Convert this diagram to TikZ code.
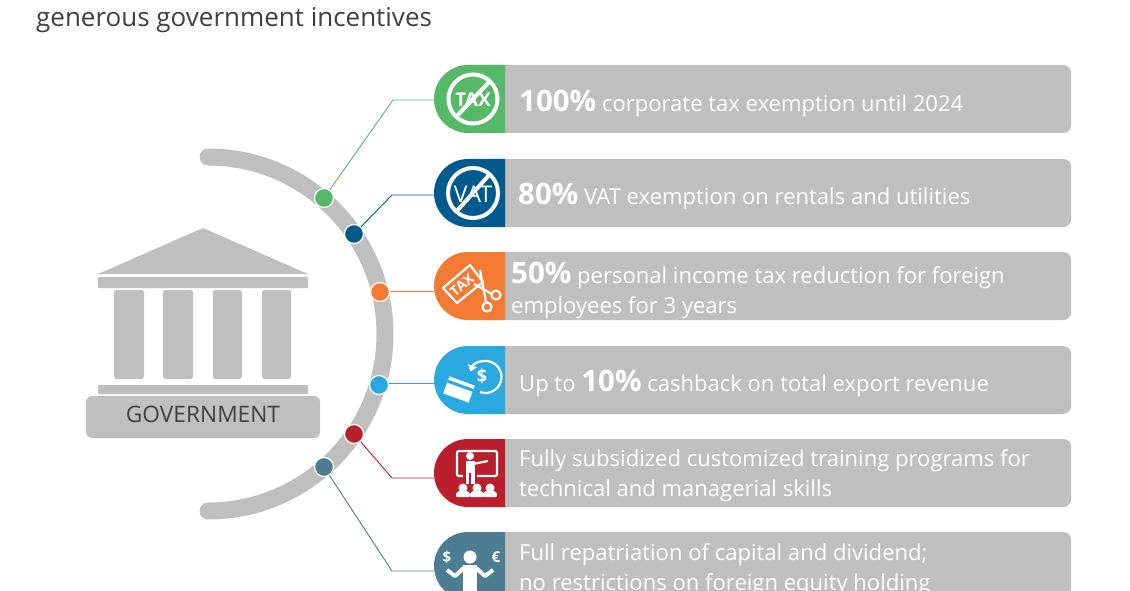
\documentclass[tikz,border=0pt]{standalone}
\usepackage{fontspec}
\setmainfont{Open Sans}
\usetikzlibrary{arrows.meta}
\definecolor{barg}{HTML}{BFBFBF}
\definecolor{inkd}{HTML}{404040}
\definecolor{taxg}{HTML}{55B968}
\definecolor{vatb}{HTML}{005A8E}
\definecolor{cuto}{HTML}{F47A33}
\definecolor{cashb}{HTML}{29A9E0}
\definecolor{trainr}{HTML}{BB1E2D}
\definecolor{repat}{HTML}{4C7D93}
\tikzset{
    barbox/.style = {fill=barg, rounded corners=8pt, minimum width=590pt, minimum height=68pt, anchor=west, inner sep=0pt},
    dotnode/.style = {circle, draw=white, line width=1.2pt, minimum size=19pt, inner sep=0pt},
    edgec/.style = {-, line width=0.9pt},
    rowtext/.style = {anchor=west, align=left, text=white, inner sep=0pt, font=\fontsize{22.05}{30}\selectfont},
    pillar/.style = {fill=barg, rounded corners=2.5pt},
    iconline/.style = {draw=white, line width=4pt},
    iconthin/.style = {draw=white, line width=2.2pt},
    iconfill/.style = {fill=white}
}
\newcommand{\bigpc}[1]{{\fontsize{29.5}{30}\selectfont\bfseries #1}}

\begin{document}
\begin{tikzpicture}[x=1pt, y=-1pt]
  \useasboundingbox (0,0) rectangle (1130,591);
  \clip (0,0) rectangle (1130,591);

  \node[anchor=base west, inner sep=0pt, text=inkd, font=\fontsize{26}{30}\selectfont] (title) at (36,27) {generous government incentives};

  % arc
  \draw[barg, line width=17pt, line cap=round] (208,157) arc[start angle=90, end angle=-90, radius=177pt];

  % building
  \fill[barg] (203,228) -- (308,274) -- (98,274) -- cycle;
  \fill[barg, rounded corners=1pt] (98,277) rectangle (308,288);
  \foreach \px/\pw in {114/30, 163/30, 213/29, 262/29}
    \fill[pillar] (\px,290) rectangle (\px+\pw,379);
  \fill[barg, rounded corners=1pt] (98,385) rectangle (308,394);
  \node[fill=barg, rounded corners=6pt, minimum width=234pt, minimum height=42pt, inner sep=0pt, text=inkd, font=\fontsize{22.7}{24}\selectfont] (govbox) at (203,417) {\raisebox{5pt}{GOVERNMENT}};

  % bars
  \foreach \nm/\ytop/\ycap/\col in {a/65/100/taxg, b/159/195/vatb, c/252/291/cuto, d/346/383/cashb, e/439/478/trainr, f/532/571/repat} {
    \node[barbox] (bar\nm) at (481,\ytop+34) {};
    \fill[\col] (505,\ytop) -- (468,\ytop) arc[start angle=90, end angle=270, radius=34pt] -- (505,\ytop+68) -- cycle;
    \coordinate (cap\nm) at (434,\ycap);
  }

  % dots
  \node[dotnode, fill=taxg] (dota) at (324,198) {};
  \node[dotnode, fill=vatb] (dotb) at (354,234) {};
  \node[dotnode, fill=cuto] (dotc) at (380,292) {};
  \node[dotnode, fill=cashb] (dotd) at (379,385) {};
  \node[dotnode, fill=trainr] (dote) at (354,434) {};
  \node[dotnode, fill=repat] (dotf) at (324,467) {};

  \coordinate (benda) at (393,100);
  \coordinate (bendb) at (392,195);
  \coordinate (bende) at (392,478);
  \coordinate (bendf) at (392,571);

  \draw[edgec, taxg] (dota) -- (benda) -- (capa);
  \draw[edgec, vatb] (dotb) -- (bendb) -- (capb);
  \draw[edgec, cuto] (dotc.east |- capc) -- (capc);
  \draw[edgec, cashb] (dotd.east |- capd) -- (capd);
  \draw[edgec, trainr] (dote) -- (bende) -- (cape);
  \draw[edgec, repat] (dotf) -- (bendf) -- (capf);

  % row texts
  \node[rowtext] (texta) at (519,103) {\bigpc{100\%} corporate tax exemption until 2024};
  \node[rowtext] (textb) at (518,196) {\bigpc{80\%} VAT exemption on rentals and utilities};
  \node[rowtext] (textc) at (511,290) {\bigpc{50\%} personal income tax reduction for foreign\\employees for 3 years};
  \node[rowtext] (textd) at (519,383) {Up to \bigpc{10\%} cashback on total export revenue};
  \node[rowtext] (texte) at (519,476) {Fully subsidized customized training programs for\\technical and managerial skills};
  \node[rowtext] (textf) at (519,570) {Full repatriation of capital and dividend;\\no restrictions on foreign equity holding};

  % icon tax
  \node[text=white, inner sep=0pt, font=\fontsize{19}{19}\selectfont\bfseries] (icontax) at (473,100) {TAX};
  \draw[iconline] (473,99) circle[radius=24.5pt];
  \draw[iconline] (456,117) -- (490,81);

  % icon vat
  \node[text=white, inner sep=0pt, font=\fontsize{23}{23}\selectfont] (iconvat) at (473,194) {VAT};
  \draw[iconline] (473,193) circle[radius=25pt];
  \draw[iconline] (456,212) -- (490,174);

  % icon scissors
  \draw[iconthin, line join=round] (443,288) -- (470,265) -- (483,282) -- (457,303) -- cycle;
  \node[text=white, inner sep=0pt, rotate=40, font=\fontsize{14}{14}\selectfont\bfseries] (iconcut) at (462,285) {TAX};
  \draw[iconthin] (480,270) -- (486,302);
  \draw[iconthin] (474,284) -- (492,294);
  \draw[iconthin] (496,295) circle[radius=4.5pt];
  \draw[iconthin] (487,307) circle[radius=4.5pt];

  % icon cash
  \draw[draw=white, line width=2.2pt, -{Triangle[length=6pt,width=9pt]}] (480,392) arc[start angle=-110, end angle=160, radius=16pt];
  \node[text=white, inner sep=0pt, font=\fontsize{18}{18}\selectfont\bfseries] (iconusd) at (482,376) {\$};
  \fill[iconfill, rotate around={-20:(459,389.5)}] (445.5,380.5) rectangle (472.5,398.5);
  \fill[cashb, rotate around={-20:(459,389.5)}] (445.5,384) rectangle (472.5,387);

  % icon training
  \draw[iconthin, rounded corners=2pt] (457,451) rectangle (497,476);
  \fill[trainr] (463,460) rectangle (477,486);
  \fill[iconfill] (470,456) circle[radius=4pt];
  \fill[iconfill] (465.5,461) rectangle (474.5,473);
  \fill[iconfill] (465.5,473) rectangle (469,484);
  \fill[iconfill] (471,473) rectangle (474.5,484);
  \draw[iconthin] (473,464) -- (488,461);
  \foreach \hx in {463,477,490} {
    \fill[iconfill] (\hx,488) circle[radius=4.5pt];
    \fill[iconfill, rounded corners=2pt] (\hx-7.5,497) -- (\hx-6,491) -- (\hx+6,491) -- (\hx+7.5,497) -- cycle;
  }

  % icon repatriation
  \fill[iconfill] (470,557) circle[radius=6.5pt];
  \node[text=white, inner sep=0pt, font=\fontsize{15}{15}\selectfont\bfseries] (iconsd) at (447,557) {\$};
  \node[text=white, inner sep=0pt, font=\fontsize{15}{15}\selectfont\bfseries] (iconeur) at (496,557) {€};
  \draw[draw=white, line width=4pt, line join=round] (447,570) -- (455,576) -- (465,567);
  \draw[draw=white, line width=4pt, line join=round] (493,570) -- (485,576) -- (475,567);
  \fill[iconfill] (463,565) rectangle (477,591);
\end{tikzpicture}
\end{document}
